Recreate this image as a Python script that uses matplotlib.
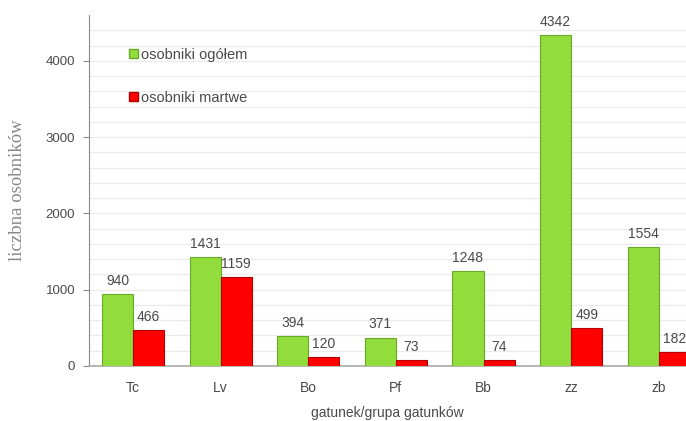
import matplotlib
matplotlib.use("Agg")
import matplotlib.pyplot as plt
from matplotlib.patches import Patch
import numpy as np

categories = ["Tc", "Lv", "Bo", "Pf", "Bb", "zz", "zb"]
total = [940, 1431, 394, 371, 1248, 4342, 1554]
dead = [466, 1159, 120, 73, 74, 499, 182]
series_names = ["osobniki ogółem", "osobniki martwe"]
yticks = [0, 1000, 2000, 3000, 4000]

plt.rcParams['font.family'] = ['Liberation Sans', 'DejaVu Sans']
txt = '#4a4a4a'

fig = plt.figure(figsize=(6.86, 4.21), dpi=100)
ax = fig.add_axes([0.130, 0.131, 0.870, 0.833])

x = np.arange(len(categories))
w = 0.355
ax.bar(x - w / 2, total, w, color='#92dc3c', edgecolor='#6aa82a', linewidth=0.8, zorder=3)
ax.bar(x + w / 2, dead, w, color='#ff0000', edgecolor='#b00000', linewidth=0.8, zorder=3)

for xi, v in zip(x - w / 2, total):
    ax.text(xi, v + 80, str(v), ha='center', va='bottom', fontsize=10, color=txt)
for xi, v in zip(x + w / 2, dead):
    ax.text(xi, v + 80, str(v), ha='center', va='bottom', fontsize=10, color=txt, clip_on=False)

ax.set_xlim(-0.5, 6.31)
ax.set_ylim(0, 4600)
ax.set_yticks(yticks)
ax.set_yticks(np.arange(200, 4600, 200), minor=True)
ax.yaxis.grid(True, which='both', color='#ebebeb', linewidth=0.9, zorder=0)
ax.set_xticks(x)
ax.set_xticklabels(categories)
ax.tick_params(axis='x', length=0, pad=11, labelsize=10, labelcolor=txt)
ax.tick_params(axis='y', which='major', length=4, color='#888888', labelsize=9.5, labelcolor=txt, pad=6)
ax.tick_params(axis='y', which='minor', length=0)

for s in ['top', 'right']:
    ax.spines[s].set_visible(False)
ax.spines['left'].set_color('#888888')
ax.spines['bottom'].set_color('#aaaaaa')
ax.spines['bottom'].set_linewidth(1.2)

ax.set_ylabel('liczbna osobników', fontsize=13.5, color='#888888', family=['Liberation Serif'], labelpad=14)
ax.set_xlabel('gatunek/grupa gatunków', fontsize=10, color=txt, labelpad=8)

handles = [Patch(facecolor='#92dc3c', edgecolor='#6aa82a'), Patch(facecolor='#ff0000', edgecolor='#b00000')]
leg = ax.legend(handles, series_names, loc='upper left', bbox_to_anchor=(0.045, 0.945), frameon=False,
                handlelength=0.6, handleheight=0.6, handletextpad=0.2, labelspacing=2.0, fontsize=10.5)
for t in leg.get_texts():
    t.set_color(txt)

fig.savefig('out.png', dpi=100)
